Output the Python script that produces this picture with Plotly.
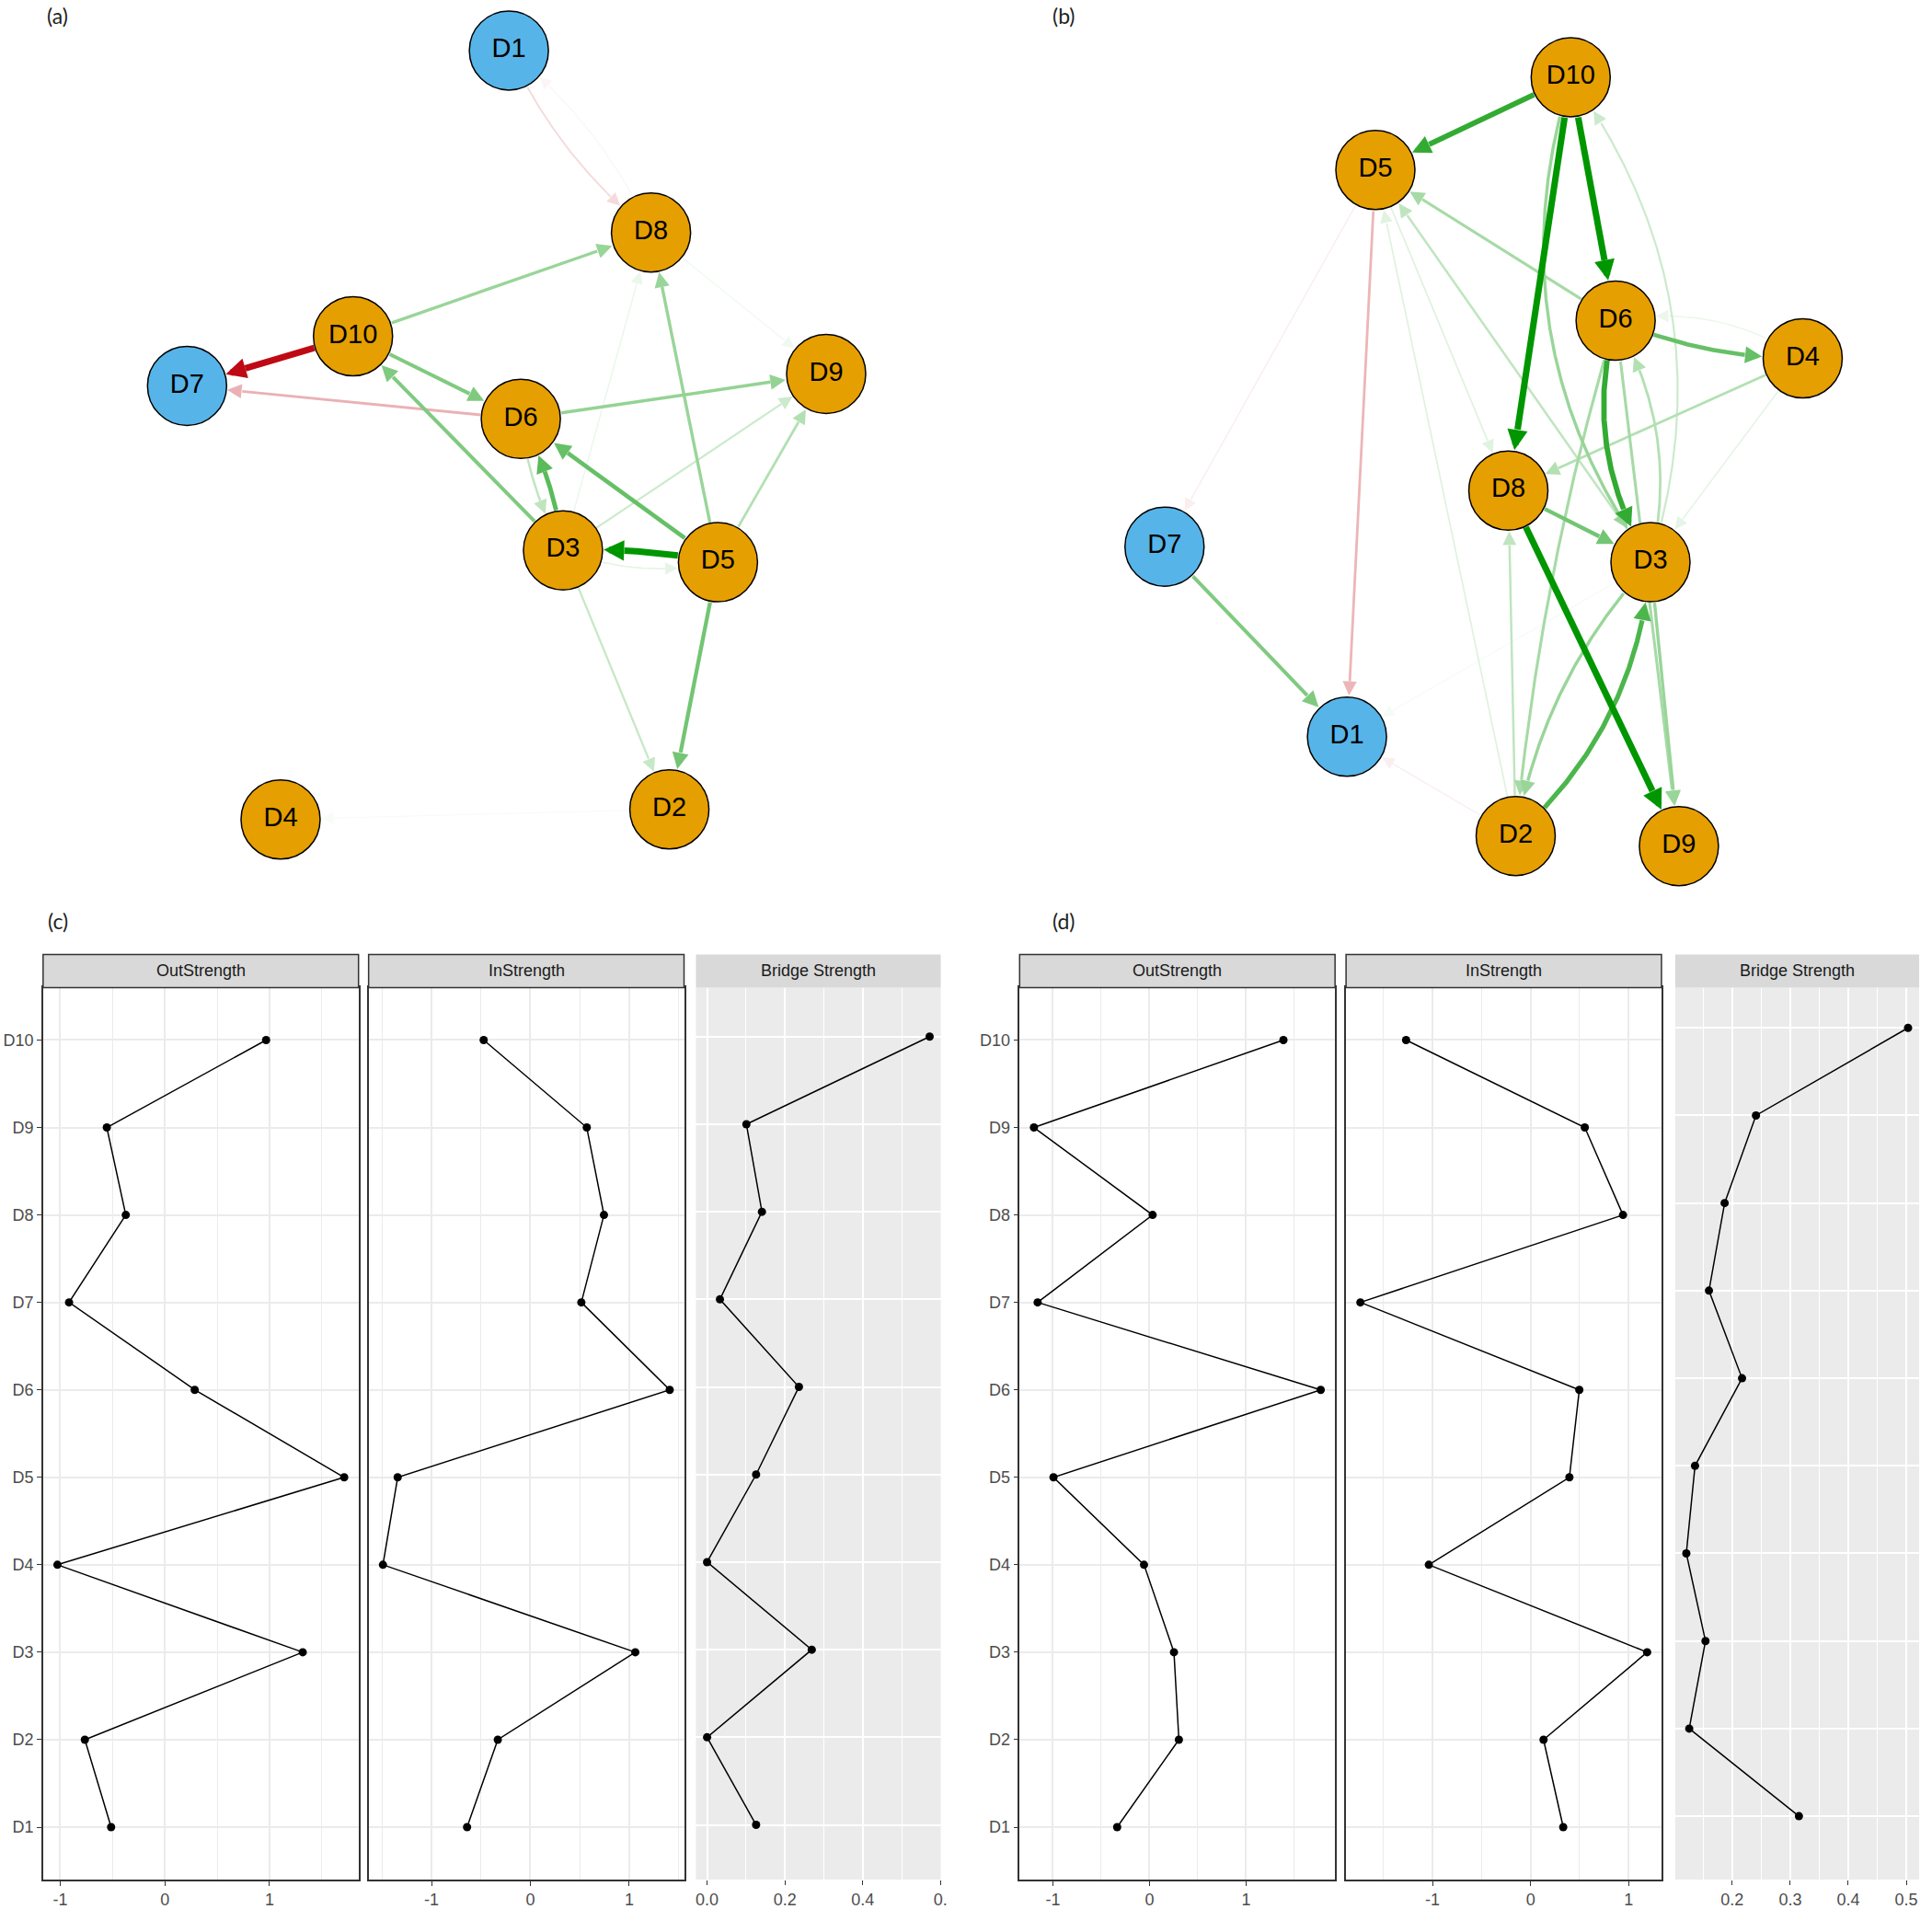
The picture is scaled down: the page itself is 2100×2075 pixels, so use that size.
import numpy as np
import plotly.graph_objects as go

W, H = 2100, 2075

# ---------------- data ----------------
node_names = ["D1", "D2", "D3", "D4", "D5", "D6", "D7", "D8", "D9", "D10"]
node_group = ["bridge", "core", "core", "core", "core", "core", "bridge", "core", "core", "core"]
group_colors = {"bridge": "#56B4E9", "core": "#E69F00"}

# network layouts (layout units == screen px, y downward)
a_x = [555, 730, 614, 306, 783, 568, 204, 710, 901, 385]
a_y = [55, 881, 599, 892, 612, 456, 420, 253, 407, 366]
b_x = [1469, 1653, 1800, 1966, 1500, 1762, 1270, 1645, 1831, 1713]
b_y = [802, 910, 612, 390, 185, 349, 595, 534, 921, 84]

# edges of network (a)
a_from = ["D10", "D6", "D1", "D8", "D10", "D10", "D3", "D6", "D3", "D5", "D5",
          "D5", "D5", "D3", "D3", "D6", "D3", "D5", "D3", "D8", "D2"]
a_to = ["D7", "D7", "D8", "D1", "D8", "D6", "D10", "D9", "D6", "D6", "D3",
        "D8", "D9", "D9", "D8", "D3", "D5", "D2", "D2", "D9", "D4"]
a_w = [-1.0, -0.32, -0.15, -0.04, 0.40, 0.50, 0.50, 0.42, 0.65, 0.60, 1.0,
       0.40, 0.30, 0.20, 0.08, 0.25, 0.10, 0.55, 0.22, 0.06, 0.03]
a_curve = [0, 0, 0.12, 0.12, 0, 0, 0, 0, 0.1, 0, 0.06,
           0, 0, 0, 0, 0.1, 0.15, 0, 0, 0, 0]

# edges of network (b)
b_from = ["D10", "D10", "D10", "D5", "D5", "D6", "D3", "D2", "D5", "D6", "D4", "D4", "D6", "D3",
          "D3", "D10", "D8", "D8", "D7", "D2", "D2", "D3", "D6", "D2", "D3", "D6", "D4", "D3"]
b_to = ["D5", "D8", "D6", "D1", "D7", "D5", "D5", "D5", "D8", "D4", "D8", "D3", "D3", "D6",
        "D10", "D3", "D3", "D9", "D1", "D1", "D3", "D2", "D2", "D8", "D9", "D9", "D6", "D1"]
b_w = [0.80, 1.0, 1.0, -0.30, -0.07, 0.35, 0.25, 0.12, 0.12, 0.60, 0.30, 0.10, 0.80, 0.30,
       0.20, 0.40, 0.55, 1.0, 0.50, -0.07, 0.70, 0.40, 0.35, 0.25, 0.40, 0.35, 0.08, 0.04]
b_curve = [0, 0, 0, 0, 0, 0, 0, 0, 0, 0.1, 0, 0, 0.22, 0.2,
           0.25, 0.25, 0, 0, 0, 0, 0.2, 0.15, 0.05, 0, 0, 0, 0.2, 0]

# centrality (standardised) and bridge strength
c_out = [-0.513, -0.764, 1.318, -1.026, 1.714, 0.286, -0.915, -0.373, -0.554, 0.968]
c_in = [-0.640, -0.329, 1.062, -1.491, -1.342, 1.410, 0.516, 0.745, 0.571, -0.472]
c_bridge = [0.126, 0.0, 0.269, 0.0, 0.126, 0.236, 0.033, 0.141, 0.101, 0.572]
d_out = [-0.335, 0.304, 0.253, -0.057, -0.994, 1.772, -1.158, 0.032, -1.196, 1.386]
d_in = [0.333, 0.132, 1.189, -1.038, 0.396, 0.497, -1.736, 0.943, 0.553, -1.270]
d_bridge = [0.315, 0.126, 0.154, 0.121, 0.136, 0.217, 0.160, 0.187, 0.241, 0.503]

strip_titles = ["OutStrength", "InStrength", "Bridge Strength"]
panel_labels = ["(a)", "(b)", "(c)", "(d)"]

# ---------------- styling ----------------
R = 43
POS_RGB = (0, 150, 0)
NEG_RGB = (190, 10, 20)
FONT = "Liberation Sans, Arial, sans-serif"


def blend(rgb, a):
    return "rgb(%d,%d,%d)" % tuple(int(round(255 - a * (255 - c))) for c in rgb)


def bezier(p0, p1, c, n=400):
    d = p1 - p0
    L = np.hypot(d[0], d[1])
    perp = np.array([-d[1], d[0]]) / L
    ctrl = (p0 + p1) / 2 + c * L * perp
    t = np.linspace(0, 1, n)[:, None]
    return (1 - t) ** 2 * p0 + 2 * (1 - t) * t * ctrl + t ** 2 * p1


fig = go.Figure()


def draw_network(xs, ys, e_from, e_to, e_w, e_curve, ax_id):
    xa = "x" if ax_id == 1 else "x%d" % ax_id
    ya = "y" if ax_id == 1 else "y%d" % ax_id
    pos = {n: np.array([x, y], float) for n, x, y in zip(node_names, xs, ys)}
    order = np.argsort(np.abs(np.array(e_w)), kind="stable")
    for i in order:
        w = e_w[i]
        a = abs(w)
        col = blend(POS_RGB if w > 0 else NEG_RGB, a)
        lw = 1 + 6 * a
        head = 11 + 1.6 * lw
        p0, p1 = pos[e_from[i]], pos[e_to[i]]
        pts = bezier(p0, p1, e_curve[i])
        d0 = np.hypot(*(pts - p0).T)
        d1 = np.hypot(*(pts - p1).T)
        i0 = int(np.argmax(d0 >= R + 1))
        i1 = len(pts) - 1 - int(np.argmax((d1 >= R + 1)[::-1]))
        tip = pts[i1]
        dt = np.hypot(*(pts[: i1 + 1] - tip).T)
        ib = i1 - int(np.argmax(dt[::-1] >= head))
        ib = max(ib, i0)
        shaft = pts[i0: ib + 1]
        fig.add_trace(go.Scatter(x=shaft[:, 0], y=shaft[:, 1], mode="lines",
                                 line=dict(color=col, width=lw), xaxis=xa, yaxis=ya,
                                 hoverinfo="skip", showlegend=False))
        base = pts[ib]
        fig.add_annotation(x=tip[0], y=tip[1], ax=base[0], ay=base[1],
                           xref=xa, yref=ya, axref=xa, ayref=ya, text="",
                           showarrow=True, arrowhead=2, arrowwidth=lw,
                           arrowsize=head / (5.0 * lw), arrowcolor=col, standoff=0)
    fig.add_trace(go.Scatter(x=xs, y=ys, mode="markers+text", text=node_names,
                             textposition="middle center", cliponaxis=False,
                             textfont=dict(family=FONT, size=29, color="black"),
                             marker=dict(size=2 * R, color=[group_colors[g] for g in node_group],
                                         line=dict(color="black", width=1.5)),
                             xaxis=xa, yaxis=ya, hoverinfo="skip", showlegend=False))


draw_network(a_x, a_y, a_from, a_to, a_w, a_curve, 1)
draw_network(b_x, b_y, b_from, b_to, b_w, b_curve, 2)

NET_H = 1000
layout = dict(
    width=W, height=H, margin=dict(l=0, r=0, t=0, b=0),
    paper_bgcolor="white", plot_bgcolor="rgba(0,0,0,0)", showlegend=False,
    xaxis=dict(domain=[0, 1050 / W], range=[0, 1050], visible=False, anchor="y"),
    yaxis=dict(domain=[1 - NET_H / H, 1], range=[NET_H, 0], visible=False, anchor="x"),
    xaxis2=dict(domain=[1050 / W, 1], range=[1050, 2100], visible=False, anchor="y2"),
    yaxis2=dict(domain=[1 - NET_H / H, 1], range=[NET_H, 0], visible=False, anchor="x2"),
)

PANEL_TOP, PANEL_BOT = 1075, 2046
STRIP_TOP = 1039


def expand(vals, m=0.05):
    lo, hi = min(vals), max(vals)
    p = (hi - lo) * m
    return [lo - p, hi + p]


# (values, x0 px, x1 px, kind, y-range, major ticks, labels, minor dtick, y labels, strip)
panels = [
    (c_out, 47, 391, "bw", [-0.6, 9.6], [-1, 0, 1], ["-1", "0", "1"], 0.5, True, 0),
    (c_in, 402, 746, "bw", [-0.6, 9.6], [-1, 0, 1], ["-1", "0", "1"], 0.5, False, 1),
    (c_bridge, 759, 1026, "grey", [-0.625, 9.56], [0, 0.2, 0.4, 0.6],
     ["0.0", "0.2", "0.4", "0."], 0.1, False, 2),
    (d_out, 1112, 1456, "bw", [-0.6, 9.6], [-1, 0, 1], ["-1", "0", "1"], 0.5, True, 0),
    (d_in, 1468, 1812, "bw", [-0.6, 9.6], [-1, 0, 1], ["-1", "0", "1"], 0.5, False, 1),
    (d_bridge, 1827, 2093, "grey", [-0.724, 9.46], [0.2, 0.3, 0.4, 0.5],
     ["0.2", "0.3", "0.4", "0.5"], 0.05, False, 2),
]

shapes = []
annotations = []
tickfont = dict(family=FONT, size=18, color="#4D4D4D")
for k, (vals, x0, x1, kind, yr, tv, tt, mdt, ylab, si) in enumerate(panels):
    n = k + 3
    xa, ya = "x%d" % n, "y%d" % n
    bw = kind == "bw"
    grid = "#EBEBEB" if bw else "white"
    fig.add_trace(go.Scatter(x=vals, y=node_names, mode="lines+markers",
                             line=dict(color="black", width=1.5),
                             marker=dict(color="black", size=9),
                             xaxis=xa, yaxis=ya, hoverinfo="skip", showlegend=False))
    layout["xaxis%d" % n] = dict(
        domain=[x0 / W, x1 / W], anchor=ya, range=expand(vals), tickmode="array",
        tickvals=tv, ticktext=tt, tickfont=tickfont, ticks="outside", ticklen=5,
        tickcolor="#333333", tickwidth=1.3, showgrid=True, gridcolor=grid,
        gridwidth=2 if not bw else 1.8, zeroline=False,
        showline=bw, mirror=bw, linecolor="#333333", linewidth=1.5,
        minor=dict(dtick=mdt, tick0=0, showgrid=True, gridcolor=grid,
                   gridwidth=1.2, ticks=""))
    layout["yaxis%d" % n] = dict(
        domain=[1 - PANEL_BOT / H, 1 - PANEL_TOP / H], anchor=xa, type="category",
        categoryorder="array", categoryarray=node_names, range=yr,
        showticklabels=ylab, tickfont=tickfont, ticks="outside" if ylab else "",
        ticklen=5, tickcolor="#333333", tickwidth=1.3, showgrid=True, gridcolor=grid,
        gridwidth=2 if not bw else 1.8, zeroline=False,
        showline=bw, mirror=bw, linecolor="#333333", linewidth=1.5)
    if not bw:
        shapes.append(dict(type="rect", xref="paper", yref="paper", layer="below",
                           x0=x0 / W, x1=x1 / W, y0=1 - PANEL_BOT / H, y1=1 - PANEL_TOP / H,
                           fillcolor="#EBEBEB", line=dict(width=0)))
    shapes.append(dict(type="rect", xref="paper", yref="paper", layer="above",
                       x0=x0 / W, x1=x1 / W, y0=1 - PANEL_TOP / H, y1=1 - STRIP_TOP / H,
                       fillcolor="#D9D9D9",
                       line=dict(color="#333333", width=1.5) if bw else dict(width=0)))
    annotations.append(dict(xref="paper", yref="paper", x=(x0 + x1) / 2 / W,
                            y=1 - (STRIP_TOP + PANEL_TOP) / 2 / H, text=strip_titles[si],
                            showarrow=False, xanchor="center", yanchor="middle",
                            font=dict(family=FONT, size=18, color="#1A1A1A")))

label_pos = [(63, 17), (1160, 17), (63, 1002), (1160, 1002)]
for lab, (lx, ly) in zip(panel_labels, label_pos):
    annotations.append(dict(xref="paper", yref="paper", x=lx / W, y=1 - ly / H, text=lab,
                            showarrow=False, xanchor="center", yanchor="middle",
                            font=dict(family="Lato, DejaVu Sans, sans-serif", size=23,
                                      color="#222222")))

fig.update_layout(**layout)
fig.update_layout(shapes=shapes)
for an in annotations:
    fig.add_annotation(**an)

fig.write_html("out.html", config={"displayModeBar": False},
               post_script="document.body.style.margin='0px';"
                           "document.body.style.overflow='hidden';")
